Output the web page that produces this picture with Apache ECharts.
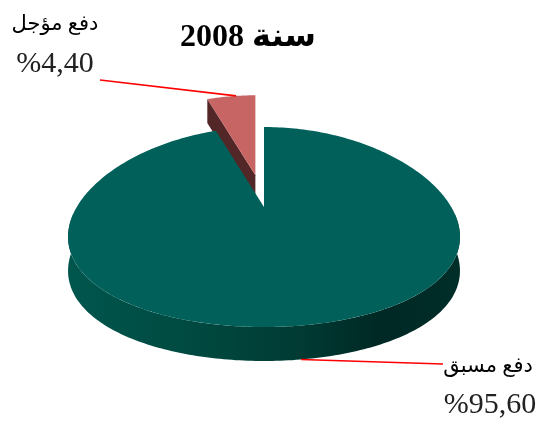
<!DOCTYPE html>
<html><head><meta charset="utf-8">
<script src="https://cdn.jsdelivr.net/npm/echarts@6/dist/echarts.min.js"></script>
<style>html,body{margin:0;padding:0;background:#fff}#c{width:545px;height:426px}</style>
</head><body><div id="c"></div>
<script>
const titleText = '2008 سنة';
const categories = ['دفع مسبق', 'دفع مؤجل'];
const values = [95.60, 4.40];
const topColors = ['#01605a', '#c76565'];
const sideColors = ['#00443c', '#532727'];

const total = values.reduce((a, b) => a + b, 0);
let acc = 0;
const sliceData = values.map((v, i) => {
  const s = acc / total; acc += v;
  return { value: [s, acc / total, i] };
});
function pctText(v) { return '%' + v.toFixed(2).replace('.', ','); }

const labelLayout = [
  { end: [443, 364], name: [488, 366], pct: [490, 405], at: 0.494, onSide: true },
  { end: [100, 80], name: [55, 24], pct: [55, 64], at: 0.6, onSide: false }
];

const chart = echarts.init(document.getElementById('c'));
chart.setOption({
  backgroundColor: '#fff',
  animation: false,
  title: {
    text: titleText, left: 243, top: 17, textAlign: 'center',
    textStyle: { fontFamily: '"Liberation Serif", "DejaVu Sans", serif', fontWeight: 'bold', fontSize: 32, color: '#000' }
  },
  grid: { left: 69, top: 127, width: 390, height: 200 },
  xAxis: { type: 'value', min: -1, max: 1, show: false },
  yAxis: { type: 'value', min: -1, max: 1, show: false },
  series: [{
    type: 'custom',
    coordinateSystem: 'cartesian2d',
    encode: { x: -1, y: -1 },
    data: sliceData,
    renderItem: function (params, api) {
      const s = api.value(0), e = api.value(1), i = api.value(2);
      const c0 = api.coord([0, 0]);
      const rx = api.coord([1, 0])[0] - c0[0];
      const ry = c0[1] - api.coord([0, 1])[1];
      const explode = i === 1 ? 0.32 : 0;
      const depth = i === 1 ? 24 : 34;
      const mid = (s + e) / 2 * Math.PI * 2;
      const ox = Math.sin(mid) * explode * rx, oy = -Math.cos(mid) * explode * ry;
      function rim(t) {
        const th = t * Math.PI * 2;
        const persp = 1 - 0.1 * Math.cos(th);
        const p = api.coord([Math.sin(th) * persp, Math.cos(th)]);
        return [p[0] + ox, p[1] + oy];
      }
      const apexU = api.coord([0, 0.2]);
      const apex = [apexU[0] + ox, apexU[1] + oy];
      const arc = [];
      const steps = Math.max(4, Math.ceil((e - s) * 360));
      for (let k = 0; k <= steps; k++) arc.push(rim(s + (e - s) * k / steps));
      const children = [];
      const zBase = i === 1 ? 0 : 10;
      if (i === 1) {
        const r = rim(s);
        children.push({ type: 'polygon', z2: zBase + 1,
          shape: { points: [apex, r, [r[0], r[1] + depth], [apex[0], apex[1] + depth]] },
          style: { fill: sideColors[i] } });
      } else {
        const fs = Math.max(s, 0.23), fe = Math.min(e, 0.77);
        if (fe > fs) {
          const front = [];
          for (let k = 0; k <= 180; k++) front.push(rim(fs + (fe - fs) * k / 180));
          const pts = front.concat(front.slice().reverse().map(p => [p[0], p[1] + depth]));
          children.push({ type: 'polygon', z2: zBase + 1, shape: { points: pts },
            style: { fill: new echarts.graphic.LinearGradient(0, 0, 1, 0, [
              { offset: 0, color: '#00564d' }, { offset: 0.35, color: '#00483f' },
              { offset: 0.6, color: '#003a33' }, { offset: 0.8, color: '#002824' },
              { offset: 1, color: '#002e29' }]) } });
        }
      }
      children.push({ type: 'polygon', z2: zBase + 2, shape: { points: [apex].concat(arc) },
        style: { fill: topColors[i] } });
      const L = labelLayout[i];
      let a = rim(s + (e - s) * L.at);
      if (L.onSide) a = [a[0], a[1] + depth];
      children.push({ type: 'line', z2: 30, shape: { x1: a[0], y1: a[1], x2: L.end[0], y2: L.end[1] },
        style: { stroke: '#ff0000', lineWidth: 1.6 } });
      children.push({ type: 'text', z2: 30, style: { text: categories[i], x: L.name[0], y: L.name[1],
        align: 'center', verticalAlign: 'middle', fontSize: 21,
        fontFamily: '"Liberation Serif", "DejaVu Sans", serif', fill: '#000' } });
      children.push({ type: 'text', z2: 30, style: { text: pctText(values[i]), x: L.pct[0], y: L.pct[1],
        align: 'center', verticalAlign: 'middle', fontSize: 30,
        fontFamily: '"Liberation Serif", serif', fill: '#222' } });
      return { type: 'group', children: children };
    }
  }]
});
</script></body></html>
